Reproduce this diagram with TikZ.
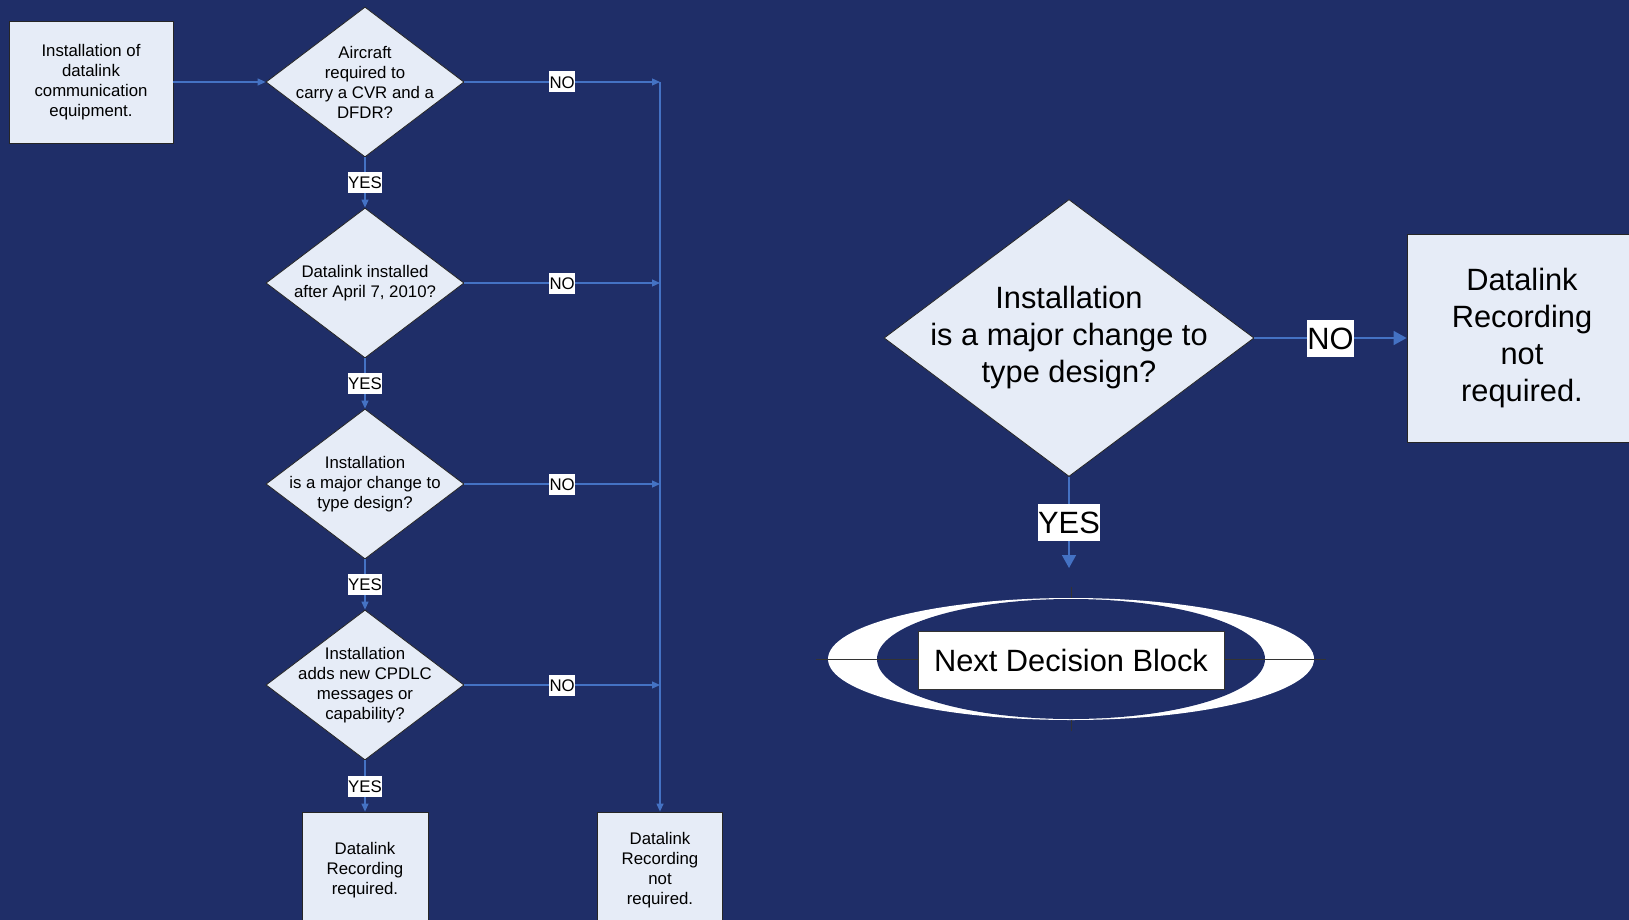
\documentclass[tikz,border=0pt]{standalone}
\usepackage{fontspec}
\setmainfont{Liberation Sans}
\usepackage{tikz}
\usetikzlibrary{positioning}
\usetikzlibrary{shapes.geometric}
\usetikzlibrary{arrows.meta}
\definecolor{navy}{RGB}{31,46,104}
\definecolor{boxfill}{RGB}{230,236,247}
\definecolor{flow}{RGB}{68,114,196}
\tikzset{small/.style={font=\fontsize{16.8}{20}\selectfont}}
\tikzset{big/.style={font=\fontsize{30.8}{37}\selectfont}}
\tikzset{dia/.style={diamond, draw=black!85, line width=0.8pt, fill=boxfill, inner sep=0pt}}
\tikzset{stepbox/.style={rectangle, draw=black!85, line width=0.8pt, fill=boxfill, inner sep=0pt, align=center}}
\tikzset{qtext/.style={align=center, inner sep=0pt}}
\tikzset{flowline/.style={draw=flow, line width=1.2pt, -{Triangle[length=8pt,width=7pt]}}}
\tikzset{flowbig/.style={draw=flow, line width=1.5pt, -{Triangle[length=13pt,width=14pt]}}}
\tikzset{yn/.style={small, fill=white, text=black, inner xsep=0.5pt, inner ysep=4.4pt, text height=12.2pt, text depth=0pt}}
\tikzset{ynbig/.style={big, fill=white, text=black, inner xsep=0.5pt, inner ysep=7.5pt, text height=22pt, text depth=0pt}}
\tikzset{tick/.style={draw=black!80, line width=0.9pt}}

\begin{document}
\begin{tikzpicture}[x=1pt,y=-1pt]
\path[use as bounding box, fill=navy] (0,0) rectangle (1629,920);
% left chart
\node[stepbox, small, minimum width=164, minimum height=122] (start) at (91,82) {Installation of\\datalink\\communication\\equipment.};
\foreach \n/\y/\txt in {d1/82/{Aircraft\\required to\\carry a CVR and a\\DFDR?},
  d2/283/{Datalink installed\\after April 7, 2010?},
  d3/484/{Installation\\is a major change to\\type design?},
  d4/685/{Installation\\adds new CPDLC\\messages or\\capability?}} {
\node[dia, minimum width=198, minimum height=150] (\n) at (365,\y) {};
\node[qtext, small] (\n-q) at (\n) {\txt};
}
\node[stepbox, small, minimum width=126, minimum height=116] (req) at (365,870) {Datalink\\Recording\\required.};
\node[stepbox, small, minimum width=125, minimum height=116] (notreq) at (660,870) {Datalink\\Recording\\not\\required.};
\draw[flowline] (start.east) -- (d1.west);
\foreach \a/\b in {d1/d2,d2/d3,d3/d4,d4/req} {
\draw[flowline] (\a.south) -- node[yn] {YES} (\b.north);
}
\foreach \n in {d1,d2,d3,d4} {
\draw[flowline] (\n.east) -- node[yn] {NO} (\n.east -| notreq.north);
}
\draw[flowline] (d1.east -| notreq.north) -- (notreq.north);
% right chart
\node[dia, minimum width=370, minimum height=277] (bigq) at (1069,338) {};
\node[qtext, big] (bigq-q) at (bigq) {Installation\\is a major change to\\type design?};
\node[stepbox, big, minimum width=230, minimum height=208] (bignot) at (1522,338) {Datalink\\Recording\\not\\required.};
\draw[flowbig] (bigq.east) -- node[ynbig] {NO} (bignot.west);
\coordinate (nextin) at (1069,568);
\draw[flowbig] (bigq.south) -- node[ynbig] {YES} (nextin);
\node[ellipse, fill=white, minimum width=486, minimum height=122, inner sep=0pt] (ring) at (1071,659) {};
\node[ellipse, fill=navy, minimum width=388, minimum height=120, inner sep=0pt] (hole) at (1071,659) {};
\draw[tick] ([xshift=-12]ring.west) -- ([xshift=12]ring.east);
\draw[tick] ([yshift=11]ring.north) -- (ring.north);
\draw[tick] ([yshift=-11]ring.south) -- (ring.south);
\node[draw=black!80, line width=0.8pt, fill=white, big, minimum width=306, minimum height=58, inner sep=0pt] (nextblk) at (1071,660) {Next Decision Block};
\end{tikzpicture}
\end{document}
